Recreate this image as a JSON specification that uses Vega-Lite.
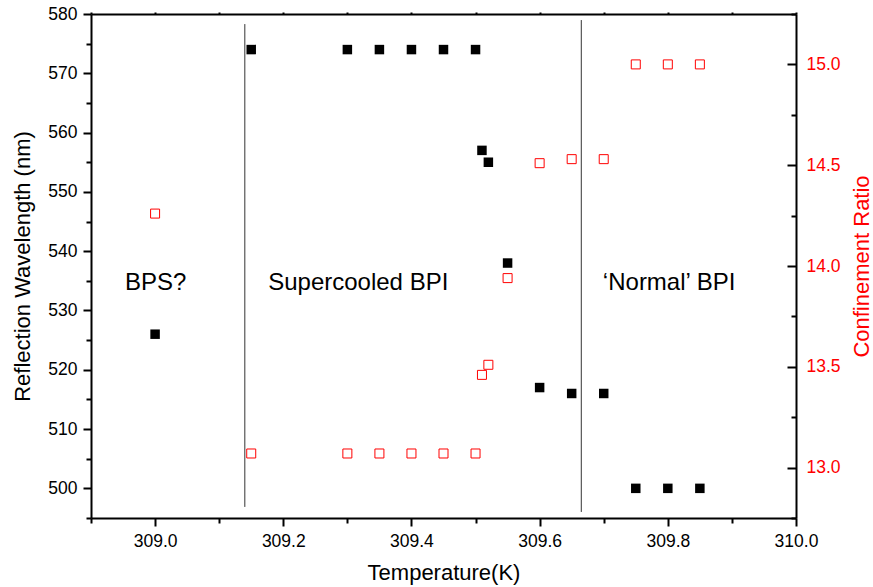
{
  "$schema": "https://vega.github.io/schema/vega-lite/v6.json",
  "width": 705,
  "height": 504,
  "autosize": "none",
  "padding": {"left": 91, "top": 14, "right": 77, "bottom": 69},
  "background": "white",
  "config": {
    "font": "Liberation Sans",
    "view": {"stroke": null},
    "axis": {
      "grid": false,
      "labelFont": "Liberation Sans",
      "titleFont": "Liberation Sans",
      "labelFontSize": 17.5,
      "titleFontSize": 22,
      "titleFontWeight": "normal",
      "domainColor": "black",
      "tickColor": "black",
      "domainWidth": 2,
      "tickWidth": 2,
      "labelColor": "black",
      "titleColor": "black",
      "labelOverlap": false,
      "labelFlush": false
    }
  },
  "datasets": {
    "wl": [
      {"T": 309.0, "wl": 526},
      {"T": 309.15, "wl": 574},
      {"T": 309.3, "wl": 574},
      {"T": 309.35, "wl": 574},
      {"T": 309.4, "wl": 574},
      {"T": 309.45, "wl": 574},
      {"T": 309.5, "wl": 574},
      {"T": 309.51, "wl": 557},
      {"T": 309.52, "wl": 555},
      {"T": 309.55, "wl": 538},
      {"T": 309.6, "wl": 517},
      {"T": 309.65, "wl": 516},
      {"T": 309.7, "wl": 516},
      {"T": 309.75, "wl": 500},
      {"T": 309.8, "wl": 500},
      {"T": 309.85, "wl": 500}
    ],
    "cr": [
      {"T": 309.0, "r": 14.26},
      {"T": 309.15, "r": 13.07},
      {"T": 309.3, "r": 13.07},
      {"T": 309.35, "r": 13.07},
      {"T": 309.4, "r": 13.07},
      {"T": 309.45, "r": 13.07},
      {"T": 309.5, "r": 13.07},
      {"T": 309.51, "r": 13.46},
      {"T": 309.52, "r": 13.51},
      {"T": 309.55, "r": 13.94},
      {"T": 309.6, "r": 14.51},
      {"T": 309.65, "r": 14.53},
      {"T": 309.7, "r": 14.53},
      {"T": 309.75, "r": 15.0},
      {"T": 309.8, "r": 15.0},
      {"T": 309.85, "r": 15.0}
    ],
    "lines": [
      {"T": 309.14, "top": 15.2, "bottom": 12.805},
      {"T": 309.665, "top": 15.22, "bottom": 12.78}
    ],
    "labels": [
      {"T": 309.001, "wl": 534.6, "label": "BPS?"},
      {"T": 309.317, "wl": 534.6, "label": "Supercooled BPI"},
      {"T": 309.802, "wl": 534.6, "label": "‘Normal’ BPI"}
    ]
  },
  "layer": [
    {
      "data": {"name": "wl"},
      "mark": {"type": "point", "shape": "square", "filled": true, "color": "black", "size": 90, "opacity": 1},
      "encoding": {
        "x": {
          "field": "T", "type": "quantitative",
          "scale": {"domain": [308.9, 310.0], "nice": false, "zero": false},
          "axis": {
            "orient": "bottom",
            "title": "Temperature(K)",
            "values": [309.0, 309.2, 309.4, 309.6, 309.8, 310.0],
            "format": ".1f",
            "tickSize": 8,
            "labelPadding": 6,
            "titlePadding": 13
          }
        },
        "y": {
          "field": "wl", "type": "quantitative",
          "scale": {"domain": [495, 580], "nice": false, "zero": false},
          "axis": {
            "orient": "left",
            "title": "Reflection Wavelength (nm)",
            "values": [500, 510, 520, 530, 540, 550, 560, 570, 580],
            "format": "d",
            "tickSize": 8,
            "labelPadding": 6,
            "titlePadding": 13
          }
        }
      }
    },
    {
      "data": {"name": "labels"},
      "mark": {"type": "text", "fontSize": 24, "font": "Liberation Sans", "align": "center", "baseline": "middle", "color": "black"},
      "encoding": {
        "x": {
          "field": "T", "type": "quantitative",
          "scale": {"domain": [308.9, 310.0], "nice": false, "zero": false},
          "axis": {
            "orient": "bottom",
            "title": null,
            "labels": false,
            "domain": false,
            "values": [308.9, 309.1, 309.3, 309.5, 309.7, 309.9],
            "tickSize": 5
          }
        },
        "y": {
          "field": "wl", "type": "quantitative",
          "scale": {"domain": [495, 580], "nice": false, "zero": false},
          "axis": {
            "orient": "left",
            "title": null,
            "labels": false,
            "domain": false,
            "values": [495, 505, 515, 525, 535, 545, 555, 565, 575],
            "tickSize": 5
          }
        },
        "text": {"field": "label"}
      }
    },
    {
      "data": {"name": "cr"},
      "mark": {"type": "point", "shape": "square", "filled": false, "color": "#ff0000", "size": 81, "strokeWidth": 1, "opacity": 1},
      "encoding": {
        "x": {
          "field": "T", "type": "quantitative",
          "scale": {"domain": [308.9, 310.0], "nice": false, "zero": false},
          "axis": {
            "orient": "top",
            "title": null,
            "labels": false,
            "values": [308.9, 309.0, 309.1, 309.2, 309.3, 309.4, 309.5, 309.6, 309.7, 309.8, 309.9, 310.0],
            "tickSize": 2
          }
        },
        "y": {
          "field": "r", "type": "quantitative",
          "scale": {"domain": [12.75, 15.25], "nice": false, "zero": false},
          "axis": {
            "orient": "right",
            "title": "Confinement Ratio",
            "titleColor": "#ff0000",
            "labelColor": "#ff0000",
            "titleAngle": -90,
            "titleBaseline": "top",
            "values": [13.0, 13.5, 14.0, 14.5, 15.0],
            "format": ".1f",
            "tickSize": -9,
            "labelPadding": 19,
            "titlePadding": 11
          }
        }
      }
    },
    {
      "data": {"name": "lines"},
      "mark": {"type": "rule", "color": "#333333", "strokeWidth": 1},
      "encoding": {
        "x": {"field": "T", "type": "quantitative", "axis": null, "scale": {"domain": [308.9, 310.0], "nice": false, "zero": false}},
        "y": {
          "field": "top", "type": "quantitative",
          "scale": {"domain": [12.75, 15.25], "nice": false, "zero": false},
          "axis": {
            "orient": "right",
            "title": null,
            "labels": false,
            "domain": false,
            "values": [12.75, 13.25, 13.75, 14.25, 14.75, 15.25],
            "tickSize": -5
          }
        },
        "y2": {"field": "bottom"}
      }
    }
  ],
  "resolve": {"scale": {"y": "independent"}, "axis": {"x": "independent", "y": "independent"}}
}
